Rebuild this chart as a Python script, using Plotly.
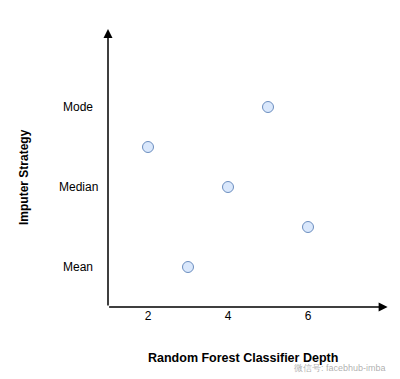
import plotly.graph_objects as go

# Data
categories = ["Mean", "Median", "Mode"]
depths = [2, 3, 4, 5, 6]
strategy_pos = [1.5, 0, 1, 2, 0.5]  # position on category scale (Mean=0, Median=1, Mode=2)
x_ticks = [2, 4, 6]
x_title = "Random Forest Classifier Depth"
y_title = "Imputer Strategy"
watermark = "微信号: facebhub-imba"

FONT = "Liberation Sans, Arial, sans-serif"
OFF = 8  # page body margin offset

# plot area in page pixels
PL, PR, PT, PB = 108, 388, 29, 307
W, H = 400, 379
PW, PH = PR - PL, PB - PT

def px(x):
    return (x - PL) / PW

def py(y):
    return (PB - y) / PH

fig = go.Figure()
fig.add_trace(go.Scatter(
    x=depths, y=strategy_pos, mode="markers",
    marker=dict(size=11, color="#dae8fc", line=dict(color="#6c8ebf", width=1)),
    hoverinfo="skip", showlegend=False,
))

x_range = [1, 8]
y_range = [-0.5, 2.975]

fig.update_layout(
    width=W, height=H,
    margin=dict(l=PL - OFF, r=W - PR + OFF, t=PT - OFF, b=H - PB + OFF, pad=0),
    paper_bgcolor="white", plot_bgcolor="white",
    font=dict(family=FONT, size=12, color="black"),
    xaxis=dict(range=x_range, tickvals=x_ticks, ticktext=[str(v) for v in x_ticks],
               showgrid=False, zeroline=False, showline=False, ticks="",
               tickfont=dict(size=12, color="black"), fixedrange=True),
    yaxis=dict(range=y_range, showgrid=False, zeroline=False, showline=False,
               showticklabels=False, ticks="", fixedrange=True),
)

annotations = []
# y category labels (centered)
for i, c in enumerate(categories):
    annotations.append(dict(x=px(78), xref="paper", y=i, yref="y", text=c, showarrow=False,
                            xanchor="center", yanchor="middle", font=dict(size=12, color="black")))

# axis arrows
annotations.append(dict(x=x_range[1] - 0.01, y=y_range[0], xref="x", yref="y", ax=-PW, ay=0,
                        text="", showarrow=True,
                        arrowhead=2, arrowsize=1.2, arrowwidth=1.5, arrowcolor="black"))
annotations.append(dict(x=x_range[0], y=y_range[1], xref="x", yref="y", ax=0, ay=PH,
                        text="", showarrow=True,
                        arrowhead=2, arrowsize=1.2, arrowwidth=1.5, arrowcolor="black"))
# titles
annotations.append(dict(x=px(243), xref="paper", y=py(358), yref="paper",
                        text="<b>" + x_title + "</b>", showarrow=False,
                        xanchor="center", yanchor="middle", font=dict(size=12.5, color="black")))
annotations.append(dict(x=px(24), xref="paper", y=py(177), yref="paper",
                        text="<b>" + y_title + "</b>", showarrow=False, textangle=-90,
                        xanchor="center", yanchor="middle", font=dict(size=12, color="black")))
# watermark
annotations.append(dict(x=px(388), xref="paper", y=py(368), yref="paper",
                        text=watermark, showarrow=False,
                        xanchor="right", yanchor="middle",
                        font=dict(size=9, color="rgba(120,120,120,0.6)")))

fig.update_layout(annotations=annotations)
fig.write_html("out.html")
